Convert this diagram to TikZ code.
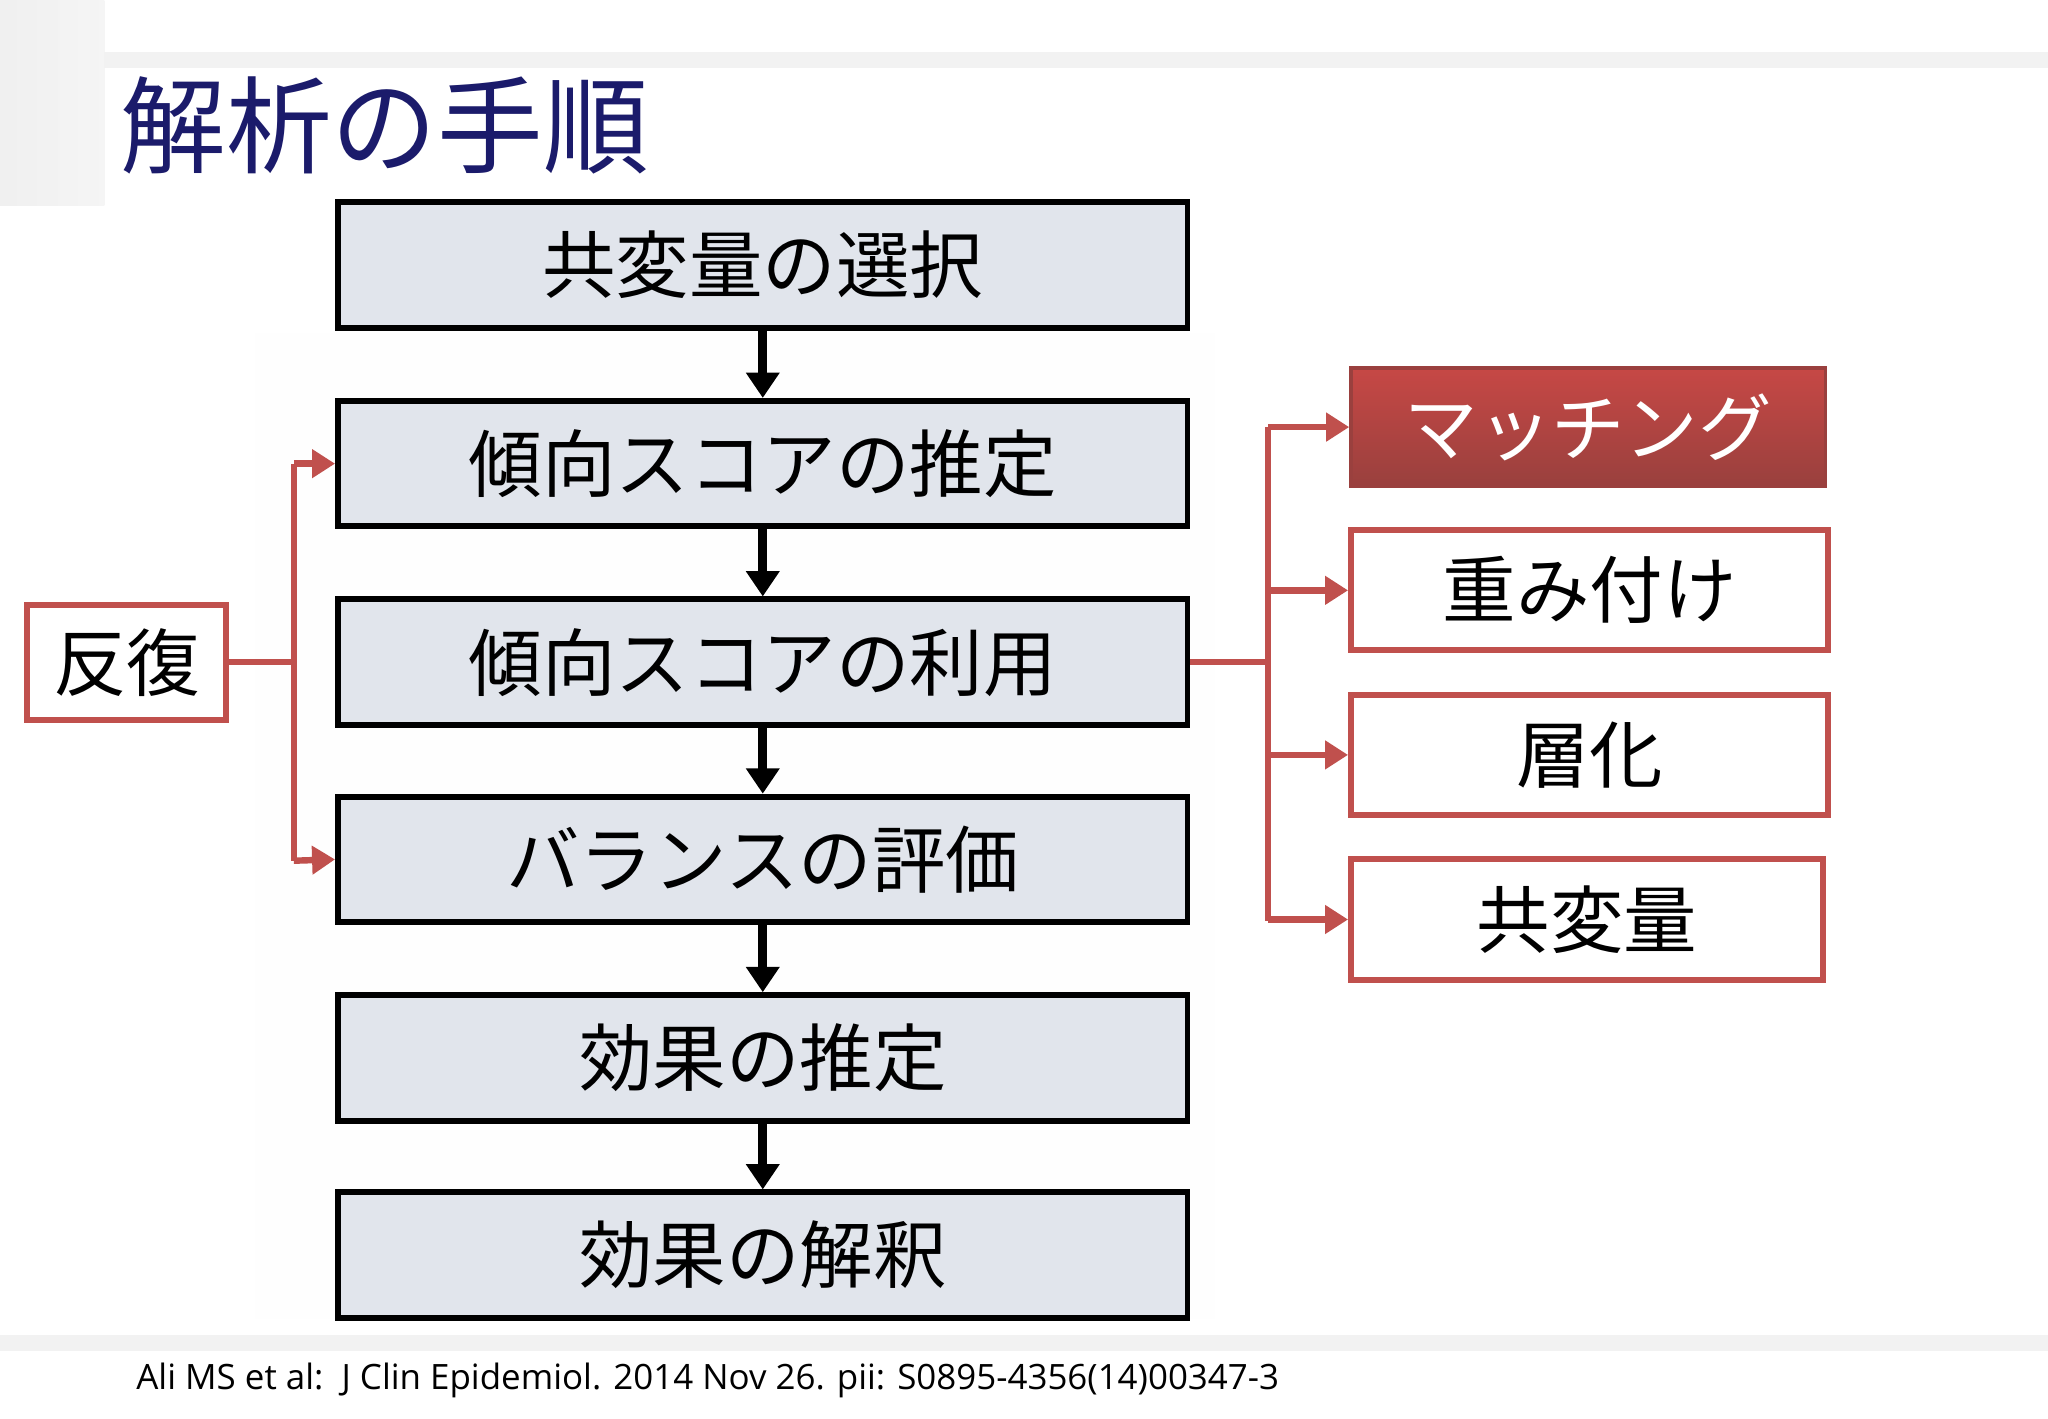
\documentclass[tikz,border=0pt]{standalone}
\usepackage{fontspec}
\setmainfont{Open Sans}
\newfontfamily\cjk{Noto Sans CJK JP}
\usetikzlibrary{arrows.meta}
\definecolor{boxfill}{HTML}{E1E5EC}
\definecolor{redl}{HTML}{C0504D}
\definecolor{navy}{HTML}{1B1B6B}
\tikzset{
  mainbox/.style={draw=black,line width=1.3pt,fill=boxfill,minimum width=6.5cm,minimum height=0.96cm,inner sep=0pt,font=\cjk\fontsize{16}{18}\selectfont},
  sidebox/.style={draw=redl,line width=1.3pt,fill=white,minimum height=0.92cm,inner sep=0pt,font=\cjk\fontsize{16}{18}\selectfont},
  blk/.style={line width=2pt,-{Triangle[length=5.5pt,width=7pt]}},
  redc/.style={draw=redl,line width=1.4pt},
  reda/.style={redc,-{Triangle[length=5pt,width=6pt]}}
}
\begin{document}
\begin{tikzpicture}[x=0.01cm,y=-0.01cm]
\useasboundingbox (0,0) rectangle (1568,1086);
\fill[white] (0,0) rectangle (1568,1086);
\fill[left color=gray!12,right color=gray!8] (0,0) rectangle (80,157);
\fill[gray!10] (80,40) rectangle (1568,52);
\fill[gray!1] (195,255) rectangle (930,1010);
\fill[gray!10] (0,1022) rectangle (1568,1034);
\node[anchor=west,text=navy,font=\cjk\fontsize{23}{26}\selectfont] (title) at (80,96) {解析の手順};
\node[mainbox] (b1) at (584,203) {共変量の選択};
\node[mainbox] (b2) at (584,355) {傾向スコアの推定};
\node[mainbox] (b3) at (584,507) {傾向スコアの利用};
\node[mainbox] (b4) at (584,658) {バランスの評価};
\node[mainbox] (b5) at (584,810) {効果の推定};
\node[mainbox] (b6) at (584,961) {効果の解釈};
\foreach \a/\b in {b1/b2,b2/b3,b3/b4,b4/b5,b5/b6} \draw[blk] (\a) -- (\b);
\node[sidebox,minimum width=1.52cm,minimum height=0.88cm] (rep) at (97,507) {反復};
\node[draw=redl!80!black,line width=0.8pt,top color=redl!90!red,bottom color=redl!80!black,text=white,minimum width=3.63cm,minimum height=0.9cm,inner sep=0pt,font=\cjk\fontsize{16}{18}\selectfont] (m) at (1216,327) {マッチング};
\node[sidebox,minimum width=3.65cm] (w) at (1217,452) {重み付け};
\node[sidebox,minimum width=3.65cm] (s) at (1217,578) {層化};
\node[sidebox,minimum width=3.61cm] (c) at (1215,704) {共変量};
\coordinate (lj) at (225,507);
\draw[redc] (rep.east) -- (lj);
\draw[redc] (225,355) -- (225,659);
\draw[reda] (225,355) -- (b2.west);
\draw[reda] (225,659) -- (b4.west);
\draw[redc] (b3.east) -- (971,507);
\draw[redc] (971,327) -- (971,705);
\draw[reda] (971,327) -- (m.west);
\draw[reda] (971,452) -- (w.west);
\draw[reda] (971,578) -- (s.west);
\draw[reda] (971,704) -- (c.west);
\node[anchor=west,font=\fontsize{7.6}{9}\selectfont] (cit) at (92,1057) {Ali MS et al:\ \ J Clin Epidemiol. 2014 Nov 26. pii: S0895-4356(14)00347-3};
\end{tikzpicture}
\end{document}
